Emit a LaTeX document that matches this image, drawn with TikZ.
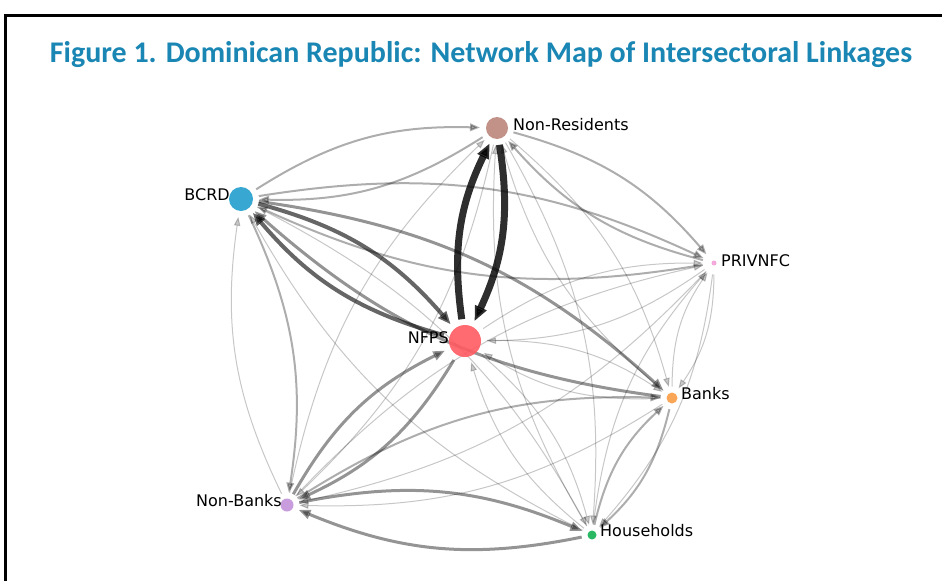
\documentclass[tikz,border=0pt]{standalone}
\usepackage{fontspec}
\usepackage{tikz}
\usetikzlibrary{arrows.meta,backgrounds}
\newfontfamily\titlefont{Carlito}
\newfontfamily\tagfont{DejaVu Sans}
\definecolor{titleBlue}{HTML}{1A86B4}
\definecolor{frameInk}{HTML}{000000}
\definecolor{nrBrown}{HTML}{BC877C}
\definecolor{bcBlue}{HTML}{239FCE}
\definecolor{pvPink}{HTML}{F59FD9}
\definecolor{nfRed}{HTML}{FF5B61}
\definecolor{bkOrange}{HTML}{FA9D45}
\definecolor{nbPurple}{HTML}{C493DA}
\definecolor{hhGreen}{HTML}{13B153}
\tikzset{
  title/.style={font=\titlefont\bfseries\fontsize{30}{36}\selectfont, text=titleBlue},
  sector/.style={circle, inner sep=0pt, outer sep=6pt, draw=none, fill opacity=.9},
  tag/.style={font=\tagfont\fontsize{16}{19}\selectfont, text=black, inner sep=0pt},
  link/.style={bend left=17, draw=black},
  heavy/.style={link, line width=7pt, opacity=.82, -{Triangle[length=15pt,width=12pt]}},
  strong/.style={link, line width=4pt, opacity=.6, -{Triangle[length=13pt,width=10pt]}},
  medium/.style={link, line width=3pt, opacity=.42, -{Triangle[length=12pt,width=9pt]}},
  light/.style={link, line width=2pt, opacity=.32, -{Triangle[length=10pt,width=7.5pt]}},
  faint/.style={link, line width=1pt, opacity=.22, -{Triangle[length=9pt,width=6.5pt]}},
}
\begin{document}
\begin{tikzpicture}[x=1pt,y=-1pt]
  \useasboundingbox (0,0) rectangle (942,581);
  \draw[frameInk, line width=2.5pt] (5.5,581) -- (5.5,15.5) -- (942,15.5);

  \node[title,anchor=base] (heading) at (481,62) {Figure 1. Dominican Republic: Network Map of Intersectoral Linkages};

  % sectors
  \node[sector,fill=nrBrown,minimum size=22pt] (nr) at (497,128) {};
  \node[sector,fill=bcBlue,minimum size=24pt] (bc) at (241,199) {};
  \node[sector,fill=pvPink,minimum size=5pt,outer sep=9pt] (pv) at (714,263) {};
  \node[sector,fill=nfRed,minimum size=32pt] (nf) at (465,341) {};
  \node[sector,fill=bkOrange,minimum size=11pt] (bk) at (672,398) {};
  \node[sector,fill=nbPurple,minimum size=13pt] (nb) at (287,505) {};
  \node[sector,fill=hhGreen,minimum size=9pt] (hh) at (592,535) {};

  \node[tag,anchor=west] (nrtag) at (513,125) {Non-Residents};
  \node[tag,anchor=east] (bctag) at (230,195) {BCRD};
  \node[tag,anchor=west] (pvtag) at (721,261) {PRIVNFC};
  \node[tag,anchor=east] (nftag) at (449,338) {NFPS};
  \node[tag,anchor=west] (bktag) at (681,394) {Banks};
  \node[tag,anchor=east] (nbtag) at (282,501) {Non-Banks};
  \node[tag,anchor=west] (hhtag) at (600,531) {Households};

  % linkages, drawn under the sectors
  \begin{scope}[on background layer]
    \fill[white] (0,0) rectangle (942,581);
    \draw[faint] (nb) to (bc);
    \draw[faint] (bc) to (hh);
    \draw[faint] (hh) to (bc);
    \draw[faint] (bk) to (nr);
    \draw[faint] (nr) to (nb);
    \draw[faint] (nb) to (nr);
    \draw[faint] (nr) to (hh);
    \draw[faint] (hh) to (nr);
    \draw[faint] (pv) to (nf);
    \draw[faint] (nf) to (hh);
    \draw[faint] (hh) to (nf);
    \draw[faint] (pv) to (bk);
    \draw[faint] (bk) to (pv);
    \draw[faint] (pv) to (nb);
    \draw[faint] (nb) to (pv);
    \draw[faint] (pv) to (hh);
    \draw[faint] (hh) to (pv);
    \draw[faint] (nf) to (bk);
    \draw[faint] (bk) to (nf);
    \draw[faint] (nf) to (pv);
    \draw[faint] (nr) to (bk);
    \draw[faint] (bk) to (nb);

    \draw[light] (bc) to (nr);
    \draw[light] (nr) to (bc);
    \draw[light] (bc) to (pv);
    \draw[light] (pv) to (bc);
    \draw[light] (bc) to (nb);
    \draw[light] (nr) to (pv);
    \draw[light] (pv) to (nr);
    \draw[light] (nb) to (bk);
    \draw[light] (bk) to (hh);
    \draw[light] (hh) to (bk);

    \draw[medium] (nf) to (nb);
    \draw[medium] (nb) to (nf);
    \draw[medium] (bc) to (bk);
    \draw[medium] (bk) to (bc);
    \draw[medium] (nb) to (hh);
    \draw[medium] (hh) to (nb);

    \draw[strong] (bc) to (nf);
    \draw[strong] (nf) to (bc);

    \draw[heavy] (nf) to (nr);
    \draw[heavy] (nr) to (nf);
  \end{scope}
\end{tikzpicture}
\end{document}
